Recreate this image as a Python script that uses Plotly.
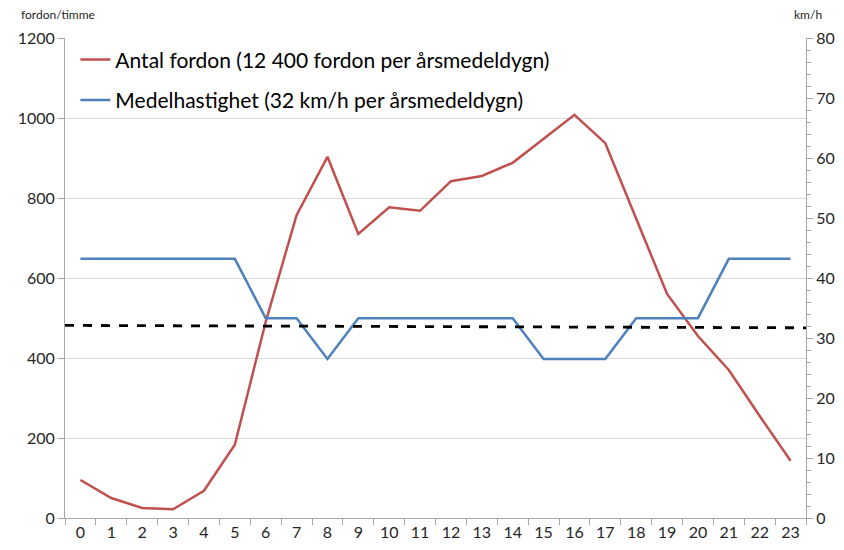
import plotly.graph_objects as go

hours = [str(h) for h in range(24)]
vehicles = [95, 50, 25, 22, 68, 183, 490, 757, 903, 710, 777, 768,
            842, 855, 888, 948, 1008, 937, 750, 560, 455, 370, 255, 143]
speed = [43.2, 43.2, 43.2, 43.2, 43.2, 43.2, 33.3, 33.3, 26.5, 33.3, 33.3, 33.3,
         33.3, 33.3, 33.3, 26.5, 26.5, 26.5, 33.3, 33.3, 33.3, 43.2, 43.2, 43.2]
# dashed average speed line spanning the full plot width (start, end)
avg_x = [0, 1]
avg_speed = [32.1, 31.7]

FONT = "Lato, Carlito, Calibri, sans-serif"
AXIS_COLOR = "#a6a6a6"
GRID_COLOR = "#d9d9d9"

fig = go.Figure()
fig.add_trace(go.Scatter(
    x=hours, y=vehicles, mode="lines", legendgroup="a",
    name="Antal fordon (12 400 fordon per årsmedeldygn)",
    line=dict(color="#c0504d", width=2.5),
))
fig.add_trace(go.Scatter(
    x=hours, y=speed, mode="lines", yaxis="y2", legendgroup="b",
    name="Medelhastighet (32 km/h per årsmedeldygn)",
    line=dict(color="#4f81bd", width=2.5),
))
fig.add_trace(go.Scatter(
    x=avg_x, y=avg_speed, mode="lines", xaxis="x2", yaxis="y2",
    showlegend=False,
    line=dict(color="black", width=2.8, dash="dash"),
))

# page body has an 8px margin, so the figure is a bit smaller and shifted
fig.update_layout(
    width=836, height=542,
    margin=dict(l=57, r=38, t=30, b=32, autoexpand=False),
    paper_bgcolor="white", plot_bgcolor="white",
    font=dict(family=FONT, size=16, color="#262626"),
    xaxis=dict(
        type="category", range=[-0.5, 23.5], tickson="boundaries",
        ticks="outside", ticklen=6, tickcolor=AXIS_COLOR,
        showline=True, linecolor=AXIS_COLOR, showgrid=False,
        automargin=False,
    ),
    xaxis2=dict(overlaying="x", range=[0, 1], visible=False),
    yaxis=dict(
        range=[0, 1200], dtick=200, ticks="outside", ticklen=6,
        tickcolor=AXIS_COLOR, showline=True, linecolor=AXIS_COLOR,
        showgrid=True, gridcolor=GRID_COLOR, zeroline=False,
        automargin=False,
    ),
    yaxis2=dict(
        overlaying="y", side="right", anchor="x",
        range=[0, 80], dtick=10, ticks="outside", ticklen=6,
        tickcolor=AXIS_COLOR, showline=True, linecolor=AXIS_COLOR,
        showgrid=False, zeroline=False, automargin=False,
        minor=dict(dtick=2, ticks="outside", ticklen=4, tickcolor=AXIS_COLOR),
    ),
    legend=dict(
        x=0.014, y=0.997, xanchor="left", yanchor="top",
        bgcolor="rgba(0,0,0,0)", font=dict(size=21, color="black"),
        traceorder="grouped", tracegroupgap=10,
    ),
    annotations=[
        dict(text="fordon/timme", xref="paper", yref="paper",
             x=-0.062, y=1.03, xanchor="left", yanchor="bottom",
             showarrow=False, font=dict(size=12)),
        dict(text="km/h", xref="paper", yref="paper",
             x=1.024, y=1.03, xanchor="right", yanchor="bottom",
             showarrow=False, font=dict(size=12)),
    ],
)

fig.write_html("out.html")
